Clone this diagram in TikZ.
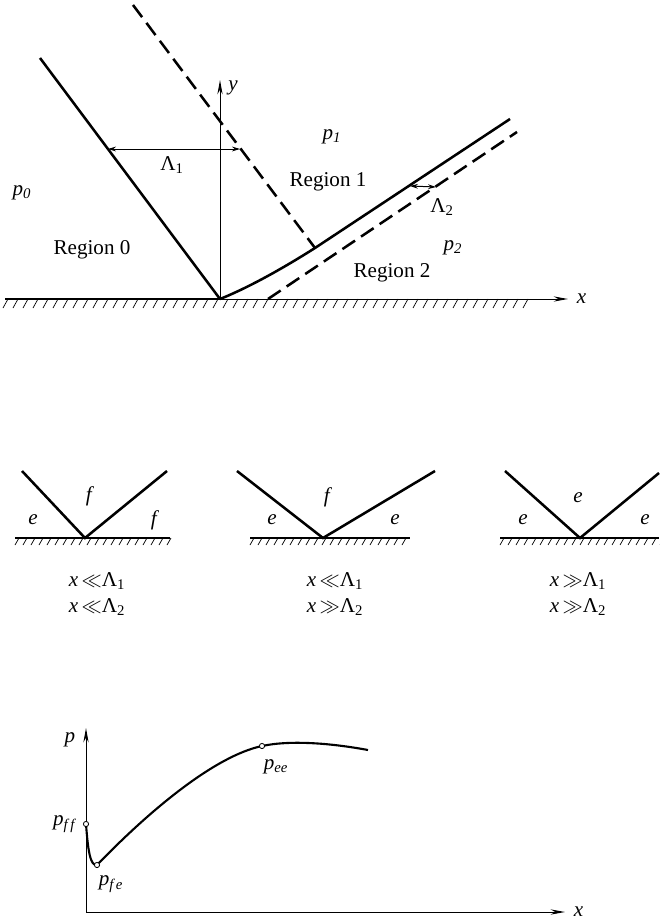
\documentclass[tikz,border=0pt]{standalone}
\usepackage{fontspec}
\setmainfont{Liberation Serif}
\usetikzlibrary{arrows.meta, positioning}
\newcommand{\isub}[2]{\textit{#1}\textsubscript{\textit{#2}}}
\tikzset{
    front/.style={
        draw=black,
        line width=1.8pt
    },
    frontdash/.style={
        front,
        dash pattern=on 3.8mm off 1.8mm
    },
    axis/.style={
        draw=black,
        line width=0.7pt,
        -{Stealth[length=3.6mm, width=1.3mm]}
    },
    ground/.style={
        draw=black,
        line width=0.9pt
    },
    hatchmark/.style={
        draw=black,
        line width=0.5pt
    },
    dimline/.style={
        draw=black,
        line width=0.7pt,
        {Stealth[length=2mm, width=1.2mm]}-{Stealth[length=2mm, width=1.2mm]}
    },
    knot/.style={
        circle,
        draw=black,
        fill=white,
        line width=0.6pt,
        inner sep=0pt,
        minimum size=1.3mm
    }
}

\begin{document}
\begin{tikzpicture}[x=0.25mm, y=-0.25mm, font=\fontsize{15}{18}\selectfont]
            \useasboundingbox (0,0) rectangle (659,921);

            % Top : shock pattern
            \coordinate (O) at (220,299);
            \coordinate (wallL) at (5,299);
            \coordinate (xTip) at (568,299);
            \coordinate (yTip) at (220,80);
            \coordinate (incTop) at (40,58);
            \coordinate (dashTop) at (133,5);
            \coordinate (kink) at (315,248);
            \coordinate (refTop) at (510,119);
            \coordinate (dashTwoBot) at (268,299);
            \coordinate (dashTwoTop) at (517,132);
            \coordinate (lamOneL) at (108,149);
            \coordinate (lamOneR) at (240,149);
            \coordinate (lamTwoL) at (410,186);
            \coordinate (lamTwoR) at (436,187);

            \foreach \hx in {8,18,...,528}
                \draw [hatchmark] (\hx,299) -- ++(-5,9);
            \draw [ground] (wallL) -- (O);
            \draw [axis] (O) -- (xTip);
            \node (xTop) [right = 1mm of xTip] {\textit{x}};
            \draw [axis] (O) -- (yTip);
            \node (yTop) at (233,88) {\textit{y}};

            \draw [front] (incTop) -- (O);
            \draw [front] (O) .. controls (250,287) and (285,267) .. (kink) -- (refTop);
            \draw [frontdash] (dashTop) -- (kink);
            \draw [frontdash] (dashTwoBot) -- (dashTwoTop);

            \draw [dimline] (lamOneL) -- (lamOneR);
            \draw [dimline] (lamTwoL) -- (lamTwoR);
            \node (lamOne) at (172,165) {Λ\textsubscript{1}};
            \node (lamTwo) at (442,207) {Λ\textsubscript{2}};

            \node (pZero) at (22,193) {\isub{p}{0}};
            \node (pOne) at (332,137) {\isub{p}{1}};
            \node (pTwo) at (453,248) {\isub{p}{2}};
            \node (regZero) at (92,250) {Region 0};
            \node (regOne) at (328,182) {Region 1};
            \node (regTwo) at (392,273) {Region 2};

            % Middle : three limits
            \foreach \hx in {19,27,...,171}
                \draw [hatchmark] (\hx,538) -- ++(-4,7);
            \foreach \hx in {254,262,...,410}
                \draw [hatchmark] (\hx,538) -- ++(-4,7);
            \foreach \hx in {504,512,...,664}
                \draw [hatchmark] (\hx,538) -- ++(-4,7);

            \coordinate (apexA) at (85,538);
            \coordinate (apexB) at (323,538);
            \coordinate (apexC) at (580,538);

            \draw [ground] (15,538) -- (170,538);
            \draw [ground] (250,538) -- (410,538);
            \draw [ground] (500,538) -- (659,538);

            \draw [front] (22,471) -- (apexA) -- (167,471);
            \draw [front] (237,471) -- (apexB) -- (435,471);
            \draw [front] (505,471) -- (apexC) -- (659,473);

            \node (fA) at (90,496) {\textit{f}};
            \node (eAL) at (33,520) {\textit{e}};
            \node (fAR) at (155,520) {\textit{f}};
            \node (fB) at (328,497) {\textit{f}};
            \node (eBL) at (272,520) {\textit{e}};
            \node (eBR) at (395,520) {\textit{e}};
            \node (eC) at (578,498) {\textit{e}};
            \node (eCL) at (523,520) {\textit{e}};
            \node (eCR) at (645,520) {\textit{e}};

            \node (condA) [align=center] at (97,594) {\textit{x}\,$\ll$Λ\textsubscript{1}\\\textit{x}\,$\ll$Λ\textsubscript{2}};
            \node (condB) [align=center] at (335,594) {\textit{x}\,$\ll$Λ\textsubscript{1}\\\textit{x}\,$\gg$Λ\textsubscript{2}};
            \node (condC) [align=center] at (578,594) {\textit{x}\,$\gg$Λ\textsubscript{1}\\\textit{x}\,$\gg$Λ\textsubscript{2}};

            % Bottom : wall pressure
            \coordinate (P) at (86,912);
            \coordinate (pTip) at (86,728);
            \coordinate (xTipB) at (565,912);
            \coordinate (curveEnd) at (368,750);
            \draw [axis] (P) -- (pTip);
            \draw [axis] (P) -- (xTipB);
            \node (pAxis) at (70,740) {\textit{p}};
            \node (xAxis) [right = 1mm of xTipB] {\textit{x}};

            \draw [front, line width=1.5pt]
                (86,824) .. controls (88,850) and (90,866) .. (97,865)
                .. controls (150,810) and (215,756) .. (262,746)
                .. controls (290,740) and (330,743) .. (curveEnd);
            \node (pff) [knot] at (86,824) {};
            \node (pfe) [knot] at (97,865) {};
            \node (pee) [knot] at (262,746) {};
            \node (pffLab) [left = 0.3mm of pff] {\isub{p}{f\,f}};
            \node (pfeLab) at (111,884) {\isub{p}{f\,e}};
            \node (peeLab) at (276,767) {\isub{p}{ee}};
\end{tikzpicture}
\end{document}
